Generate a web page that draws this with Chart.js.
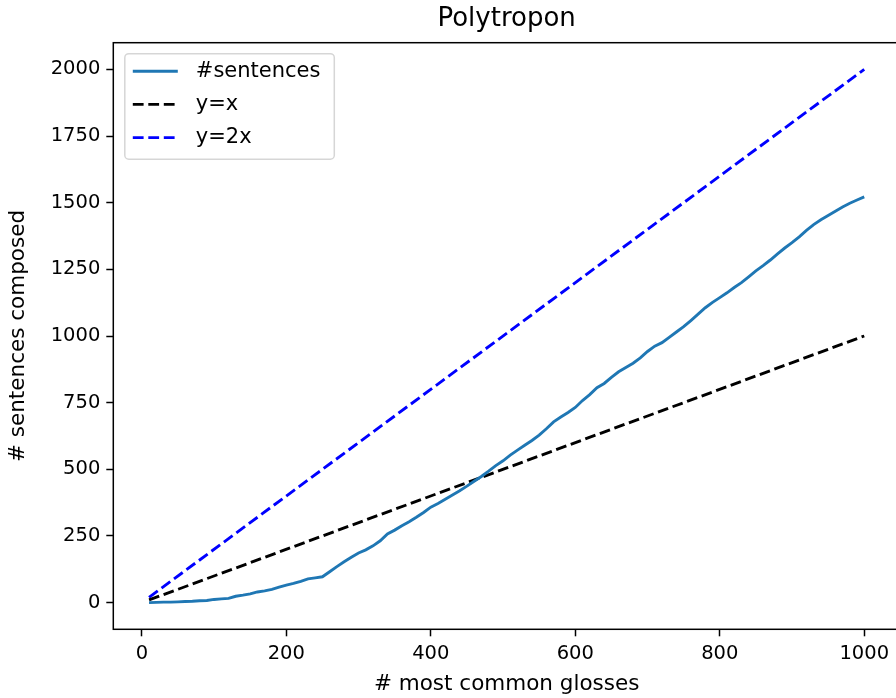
<!DOCTYPE html>
<html>
<head>
<meta charset="utf-8">
<script src="https://cdn.jsdelivr.net/npm/chart.js@4.4.0/dist/chart.umd.min.js"></script>
<style>
  html, body { margin: 0; padding: 0; background: #fff; overflow: hidden; }
</style>
</head>
<body>
<canvas id="chart" width="910" height="698"></canvas>
<script>
// datos
const glosses = [
  10, 20, 30, 40, 50, 60, 70, 80, 90, 100,
  110, 120, 130, 140, 150, 160, 170, 180, 190, 200,
  210, 220, 230, 240, 250, 260, 270, 280, 290, 300,
  310, 320, 330, 340, 350, 360, 370, 380, 390, 400,
  410, 420, 430, 440, 450, 460, 470, 480, 490, 500,
  510, 520, 530, 540, 550, 560, 570, 580, 590, 600,
  610, 620, 630, 640, 650, 660, 670, 680, 690, 700,
  710, 720, 730, 740, 750, 760, 770, 780, 790, 800,
  810, 820, 830, 840, 850, 860, 870, 880, 890, 900,
  910, 920, 930, 940, 950, 960, 970, 980, 990, 1000
];
const sentences = [
  0, 1, 2, 2, 3, 4, 5, 7, 8, 12,
  14, 16, 24, 28, 33, 40, 44, 50, 58, 66,
  72, 80, 89, 93, 97, 116, 135, 153, 170, 186,
  198, 213, 232, 258, 272, 288, 303, 320, 338, 358,
  372, 388, 404, 420, 437, 455, 473, 493, 514, 532,
  553, 572, 590, 608, 628, 652, 678, 696, 713, 732,
  758, 780, 806, 822, 845, 866, 882, 898, 918, 942,
  962, 975, 995, 1015, 1035, 1058, 1082, 1106, 1126, 1144,
  1162, 1182, 1200, 1222, 1244, 1264, 1285, 1308, 1330, 1350,
  1372, 1396, 1418, 1436, 1452, 1468, 1484, 1498, 1510, 1522
];
const refX = [10, 1000];
const refY1 = [10, 1000];
const refY2 = [20, 2000];
const xTicks = [0, 200, 400, 600, 800, 1000];
const yTicks = [0, 250, 500, 750, 1000, 1250, 1500, 1750, 2000];

const FONT = '"DejaVu Sans", sans-serif';
const toPoints = (xs, ys) => xs.map((x, i) => ({ x: x, y: ys[i] }));

// marco alrededor del area del grafico
const framePlugin = {
  id: 'frame',
  afterDatasetsDraw(chart) {
    const { ctx, chartArea: a } = chart;
    ctx.save();
    ctx.strokeStyle = '#000';
    ctx.lineWidth = 1.5;
    ctx.strokeRect(a.left, a.top, a.right - a.left, a.bottom - a.top);
    ctx.restore();
  }
};

// leyenda estilo matplotlib
const legendPlugin = {
  id: 'mplLegend',
  afterDatasetsDraw(chart) {
    const { ctx, chartArea: a } = chart;
    const x0 = a.left + 11.5, y0 = a.top + 11, w = 209.5, h = 105.5;
    ctx.save();
    ctx.beginPath();
    ctx.roundRect(x0, y0, w, h, 4);
    ctx.fillStyle = 'rgba(255,255,255,0.8)';
    ctx.fill();
    ctx.strokeStyle = 'rgba(204,204,204,0.8)';
    ctx.lineWidth = 1.5;
    ctx.stroke();
    chart.data.datasets.forEach((ds, i) => {
      const cy = y0 + 17.5 + i * 33.2;
      ctx.beginPath();
      ctx.setLineDash(ds.borderDash || []);
      ctx.strokeStyle = ds.borderColor;
      ctx.lineWidth = ds.borderWidth;
      ctx.moveTo(x0 + 8, cy);
      ctx.lineTo(x0 + 53, cy);
      ctx.stroke();
      ctx.setLineDash([]);
      ctx.fillStyle = '#000';
      ctx.font = '21px ' + FONT;
      ctx.textBaseline = 'middle';
      ctx.fillText(ds.label, x0 + 71, cy);
    });
    ctx.restore();
  }
};

const ctx = document.getElementById('chart').getContext('2d');

const myChart = new Chart(ctx, {
  type: 'line',
  data: {
    datasets: [
      {
        label: '#sentences',
        data: toPoints(glosses, sentences),
        borderColor: '#1f77b4',
        borderWidth: 2.9,
        pointRadius: 0,
        tension: 0
      },
      {
        label: 'y=x',
        data: toPoints(refX, refY1),
        borderColor: '#000000',
        borderWidth: 2.9,
        borderDash: [10.8, 4.7],
        pointRadius: 0
      },
      {
        label: 'y=2x',
        data: toPoints(refX, refY2),
        borderColor: '#0000ff',
        borderWidth: 2.9,
        borderDash: [10.8, 4.7],
        pointRadius: 0
      }
    ]
  },
  options: {
    responsive: false,
    animation: false,
    events: [],
    layout: { padding: { left: 0, right: 10, top: 0, bottom: 0 } },
    plugins: {
      legend: { display: false },
      tooltip: { enabled: false },
      title: {
        display: true,
        text: 'Polytropon',
        fullSize: false,
        color: '#000',
        font: { family: FONT, size: 26, weight: 'normal', lineHeight: 1.2 },
        padding: { top: 4, bottom: 7.5 }
      }
    },
    scales: {
      x: {
        type: 'linear',
        min: -39.5,
        max: 1049.5,
        afterBuildTicks: (axis) => { axis.ticks = xTicks.map(v => ({ value: v })); },
        afterFit: (scale) => { scale.height = 68.7; },
        grid: {
          display: true,
          drawOnChartArea: false,
          drawTicks: true,
          tickLength: 7,
          tickWidth: 1.5,
          tickColor: '#000'
        },
        border: { display: false },
        ticks: {
          color: '#000',
          padding: 6,
          maxRotation: 0,
          font: { family: FONT, size: 19.5 },
          callback: (v) => String(v)
        },
        title: {
          display: true,
          text: '# most common glosses',
          color: '#000',
          font: { family: FONT, size: 21.5 },
          padding: { top: 0, bottom: 1 }
        }
      },
      y: {
        type: 'linear',
        min: -100,
        max: 2100,
        afterBuildTicks: (axis) => { axis.ticks = yTicks.map(v => ({ value: v })); },
        afterFit: (scale) => { scale.width = 113.3; },
        grid: {
          display: true,
          drawOnChartArea: false,
          drawTicks: true,
          tickLength: 7,
          tickWidth: 1.5,
          tickColor: '#000'
        },
        border: { display: false },
        ticks: {
          color: '#000',
          padding: 6,
          font: { family: FONT, size: 19.5 },
          callback: (v) => String(v)
        },
        title: {
          display: true,
          text: '# sentences composed',
          color: '#000',
          font: { family: FONT, size: 21.5 },
          padding: { top: 6, bottom: 0 }
        }
      }
    }
  },
  plugins: [framePlugin, legendPlugin]
});
</script>
</body>
</html>
